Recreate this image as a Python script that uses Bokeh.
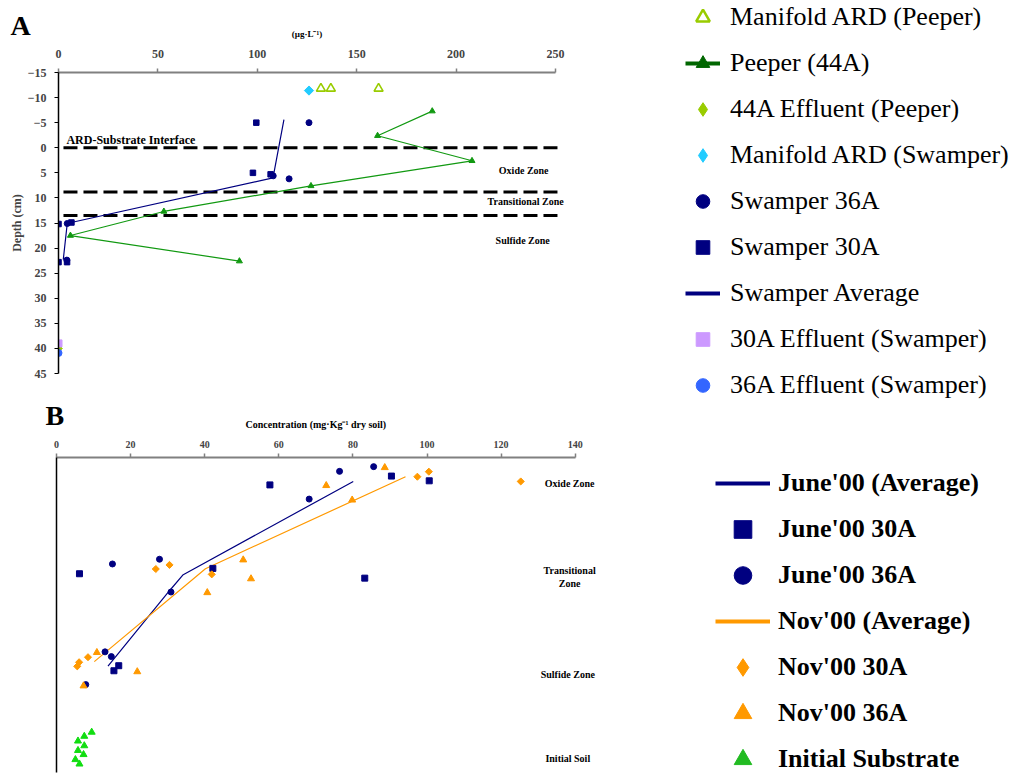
from bokeh.plotting import figure
from bokeh.layouts import column, row
from bokeh.models import Range1d, FixedTicker, Label, Legend, LegendItem
from bokeh.embed import file_html
from bokeh.resources import INLINE

SERIF = "Liberation Serif"

# ---------------- Panel A data (concentration µg/L vs depth cm) ----------------
a_x_ticks = [0, 50, 100, 150, 200, 250]
a_y_ticks = [-15, -10, -5, 0, 5, 10, 15, 20, 25, 30, 35, 40, 45]

manifold_peeper_conc = [132, 137, 161]
manifold_peeper_depth = [-11.8, -11.8, -11.8]

peeper_conc = [188, 160.5, 208, 127, 53, 6, 91]
peeper_depth = [-7.3, -2.4, 2.6, 7.6, 12.7, 17.5, 22.6]

eff44_conc = [0]
eff44_depth = [40.0]

manifold_swamper_conc = [126]
manifold_swamper_depth = [-11.4]

sw36_conc = [126, 108, 116, 4.4, 4.2]
sw36_depth = [-5.0, 5.6, 6.2, 15.1, 22.4]

sw30_conc = [99.5, 97.8, 106.7, 0, 6.5, 0, 4.3]
sw30_depth = [-5.0, 5.0, 5.3, 15.2, 14.9, 22.8, 22.8]

swavg_conc = [113.4, 107.9, 6.4, 4.4, 2.4]
swavg_depth = [-5.6, 6.0, 14.9, 15.1, 22.3]

eff30_conc = [0]
eff30_depth = [39.0]
eff36_conc = [0]
eff36_depth = [40.9]

boundary_depths = [0, 8.8, 13.5]
boundary_start = [2.5, 2.5, 2.5]
boundary_end = [252.5, 252.5, 252.5]

a_zone_texts = ["ARD-Substrate Interface", "Oxide Zone", "Transitional Zone", "Sulfide Zone"]

# ---------------- Panel B data (mg/kg dry soil vs relative depth) ----------------
b_x_ticks = [0, 20, 40, 60, 80, 100, 120, 140]

june30_conc = [57.6, 90.4, 100.6, 6.2, 42.2, 83.2, 15.5, 16.8]
june30_depth = [8.7, 5.9, 7.4, 36.9, 35.2, 38.3, 67.7, 66.1]

june36_conc = [85.6, 76.4, 68.2, 15.1, 27.8, 30.9, 13.1, 14.8, 7.9]
june36_depth = [2.9, 4.4, 13.2, 33.8, 32.3, 42.7, 61.7, 63.2, 72.1]

nov30_conc = [100.5, 97.4, 125.3, 30.5, 26.8, 41.9, 8.5, 6.1, 5.6]
nov30_depth = [4.5, 6.1, 7.6, 34.1, 35.4, 37.1, 63.4, 65.0, 66.3]

nov36_conc = [88.6, 72.8, 79.8, 50.4, 52.5, 40.7, 10.9, 21.8, 7.3]
nov36_depth = [3.2, 8.9, 13.5, 32.5, 38.5, 42.9, 61.9, 68.0, 72.5]

init_conc = [9.5, 7.5, 5.8, 7.5, 5.8, 7.3, 5.1, 6.2]
init_depth = [87.2, 88.5, 90.0, 91.5, 93.0, 94.3, 95.9, 97.3]

june_avg_conc = [80.1, 34.2, 30.5, 13.9]
june_avg_depth = [7.6, 37.2, 42.3, 66.2]

nov_avg_conc = [94.2, 40.2, 10.2]
nov_avg_depth = [6.1, 35.3, 64.8]

b_zone_texts = ["Oxide Zone", "Transitional", "Zone", "Sulfide Zone", "Initial Soil"]

NAVY = "#000080"
ORANGE = "#ff9900"
PEEP = "#119911"
YG = "#99cc00"
CYAN = "#22ccff"
LAV = "#cc99ff"
BLUE = "#3366ff"
LIME = "#11dd11"
DIAMOND_ANGLE = 0.7854


def bare_fig(w, h, xr, yr):
    f = figure(width=w, height=h, x_range=xr, y_range=yr, x_axis_location=None,
               y_axis_location=None, toolbar_location=None, output_backend="svg",
               min_border=0, frame_align=False)
    f.outline_line_color = None
    f.grid.visible = False
    return f


def style_top_axis(ax, ticks, bounds, size, standoff):
    ax.ticker = FixedTicker(ticks=ticks)
    ax.bounds = bounds
    ax.axis_line_color = "#808080"
    ax.axis_line_width = 2
    ax.major_tick_line_color = "#808080"
    ax.major_tick_line_width = 1.5
    ax.major_tick_in = 0
    ax.major_tick_out = 4
    ax.minor_tick_line_color = None
    ax.major_label_text_font = SERIF
    ax.major_label_text_font_style = "bold"
    ax.major_label_text_font_size = size
    ax.major_label_standoff = standoff


def text_label(f, x, y, t, size, align="center", baseline="middle"):
    f.add_layout(Label(x=x, y=y, text=t, text_align=align, text_baseline=baseline,
                       text_font=SERIF, text_font_style="bold", text_font_size=size,
                       text_color="black"))


# ================= Panel A =================
A_PX = 497.0 / 250.0           # pixels per µg/L
A_LEFT = 58
A_W = 600
pA = figure(width=A_W, height=360, x_range=Range1d(0, (A_W - A_LEFT) / A_PX),
            y_range=Range1d(45, -15), x_axis_location="above",
            toolbar_location=None, output_backend="svg", frame_align=False,
            min_border_left=A_LEFT, min_border_right=0, min_border_top=32, min_border_bottom=27)
pA.outline_line_color = None
pA.xgrid.visible = False
pA.ygrid.visible = False
style_top_axis(pA.xaxis[0], a_x_ticks, (0, 250), "12px", 11)

ya = pA.yaxis[0]
ya.ticker = FixedTicker(ticks=a_y_ticks)
ya.axis_line_color = "black"
ya.axis_line_width = 1.5
ya.major_tick_line_color = "black"
ya.major_tick_in = 0
ya.major_tick_out = 4
ya.minor_tick_line_color = None
ya.major_label_text_font = SERIF
ya.major_label_text_font_style = "bold"
ya.major_label_text_font_size = "12px"
ya.major_label_standoff = 8
ya.axis_label = "Depth (cm)"
ya.axis_label_text_font = SERIF
ya.axis_label_text_font_style = "bold"
ya.axis_label_text_font_size = "12px"
ya.axis_label_standoff = 1

pA.segment(x0=boundary_start, y0=boundary_depths, x1=boundary_end, y1=boundary_depths,
           line_color="black", line_width=3, line_dash="14 6")

pA.scatter(manifold_peeper_conc, manifold_peeper_depth, marker="triangle", size=9,
           fill_color=None, line_color=YG, line_width=1.6)
pA.line(peeper_conc, peeper_depth, line_color=PEEP, line_width=1.2)
pA.scatter(peeper_conc, peeper_depth, marker="triangle", size=6, fill_color=PEEP, line_color=PEEP)
pA.scatter(eff44_conc, eff44_depth, marker="square", angle=DIAMOND_ANGLE, size=5.5,
           fill_color=YG, line_color=YG)
pA.scatter(manifold_swamper_conc, manifold_swamper_depth, marker="square", angle=DIAMOND_ANGLE,
           size=6.5, fill_color=CYAN, line_color=CYAN)
pA.line(swavg_conc, swavg_depth, line_color=NAVY, line_width=1.2)
pA.scatter(sw36_conc, sw36_depth, marker="circle", size=6, fill_color=NAVY, line_color=NAVY)
pA.scatter(sw30_conc, sw30_depth, marker="square", size=5.5, fill_color=NAVY, line_color=NAVY)
pA.scatter(eff30_conc, eff30_depth, marker="square", size=7, fill_color=LAV, line_color=LAV)
pA.scatter(eff36_conc, eff36_depth, marker="circle", size=7, fill_color=BLUE, line_color=BLUE)

a_label_x = [4, 234, 235, 233.5]
a_label_y = [-1.5, 4.6, 10.8, 18.5]
a_label_align = ["left", "center", "center", "center"]
a_label_size = ["12px", "10px", "10px", "10px"]
for t, lx, ly, al, fs in zip(a_zone_texts, a_label_x, a_label_y, a_label_align, a_label_size):
    text_label(pA, lx, ly, t, fs, align=al)

# strip above panel A: panel letter and axis title (same x scale as panel A)
stripA = bare_fig(A_W, 40, Range1d(-A_LEFT / A_PX, (A_W - A_LEFT) / A_PX), Range1d(40, 0))
text_label(stripA, -24.1, 25, "A", "28px", align="left")
text_label(stripA, 125, 33, "(µg·L⁻¹)", "9px")

# legend panel A
legAfig = bare_fig(412, 400, Range1d(0, 1), Range1d(0, 1))
lg_mp = legAfig.scatter(manifold_peeper_conc, manifold_peeper_depth, marker="triangle",
                        fill_color=None, line_color=YG, line_width=2.5, visible=False)
lg_pl = legAfig.line(peeper_conc, peeper_depth, line_color="#006600", line_width=4, visible=False)
lg_pm = legAfig.scatter(peeper_conc, peeper_depth, marker="triangle", fill_color="#006600",
                        line_color="#006600", visible=False)
lg_e44 = legAfig.scatter(eff44_conc, eff44_depth, marker="diamond", fill_color=YG,
                         line_color=YG, visible=False)
lg_ms = legAfig.scatter(manifold_swamper_conc, manifold_swamper_depth, marker="diamond",
                        fill_color=CYAN, line_color=CYAN, visible=False)
lg_s36 = legAfig.scatter(sw36_conc, sw36_depth, marker="circle", fill_color=NAVY,
                         line_color=NAVY, visible=False)
lg_s30 = legAfig.scatter(sw30_conc, sw30_depth, marker="square", fill_color=NAVY,
                         line_color=NAVY, visible=False)
lg_avg = legAfig.line(swavg_conc, swavg_depth, line_color=NAVY, line_width=4, visible=False)
lg_e30 = legAfig.scatter(eff30_conc, eff30_depth, marker="square", fill_color=LAV,
                         line_color=LAV, visible=False)
lg_e36 = legAfig.scatter(eff36_conc, eff36_depth, marker="circle", fill_color=BLUE,
                         line_color=BLUE, visible=False)

legA = Legend(items=[
    LegendItem(label="Manifold ARD (Peeper)", renderers=[lg_mp]),
    LegendItem(label="Peeper (44A)", renderers=[lg_pl, lg_pm]),
    LegendItem(label="44A Effluent (Peeper)", renderers=[lg_e44]),
    LegendItem(label="Manifold ARD (Swamper)", renderers=[lg_ms]),
    LegendItem(label="Swamper 36A", renderers=[lg_s36]),
    LegendItem(label="Swamper 30A", renderers=[lg_s30]),
    LegendItem(label="Swamper Average", renderers=[lg_avg]),
    LegendItem(label="30A Effluent (Swamper)", renderers=[lg_e30]),
    LegendItem(label="36A Effluent (Swamper)", renderers=[lg_e36]),
], location=(85, -2), orientation="vertical", glyph_width=35, glyph_height=34,
    spacing=12, padding=0, margin=0, label_standoff=10, label_height=30,
    label_text_font=SERIF, label_text_font_size="26px", label_text_color="black",
    border_line_alpha=0, background_fill_alpha=0, inactive_fill_alpha=0)
legAfig.add_layout(legA)

# ================= Panel B =================
B_PX = 518.7 / 140.0
B_LEFT = 56
B_W = 600
pB = figure(width=B_W, height=346, x_range=Range1d(0, (B_W - B_LEFT) / B_PX),
            y_range=Range1d(100, 0), x_axis_location="above",
            toolbar_location=None, output_backend="svg", frame_align=False,
            min_border_left=B_LEFT, min_border_right=0, min_border_top=25, min_border_bottom=6)
pB.outline_line_color = None
pB.xgrid.visible = False
pB.ygrid.visible = False
style_top_axis(pB.xaxis[0], b_x_ticks, (0, 140), "10px", 6)

yb = pB.yaxis[0]
yb.ticker = FixedTicker(ticks=[])
yb.axis_line_color = "black"
yb.axis_line_width = 1.5
yb.major_tick_line_color = None
yb.minor_tick_line_color = None

pB.line(june_avg_conc, june_avg_depth, line_color=NAVY, line_width=1.2)
pB.line(nov_avg_conc, nov_avg_depth, line_color=ORANGE, line_width=1.2)
pB.scatter(june30_conc, june30_depth, marker="square", size=6, fill_color=NAVY, line_color=NAVY)
pB.scatter(june36_conc, june36_depth, marker="circle", size=6, fill_color=NAVY, line_color=NAVY)
pB.scatter(nov30_conc, nov30_depth, marker="square", angle=DIAMOND_ANGLE, size=5,
           fill_color=ORANGE, line_color=ORANGE)
pB.scatter(nov36_conc, nov36_depth, marker="triangle", size=7, fill_color=ORANGE, line_color=ORANGE)
pB.scatter(init_conc, init_depth, marker="triangle", size=7, fill_color=LIME, line_color=LIME)

b_label_x = [138.5, 138.5, 138.5, 138.0, 138.0]
b_label_y = [8.1, 35.9, 40.1, 69.0, 95.5]
for t, lx, ly in zip(b_zone_texts, b_label_x, b_label_y):
    text_label(pB, lx, ly, t, "10px")

stripB = bare_fig(B_W, 32, Range1d(-B_LEFT / B_PX, (B_W - B_LEFT) / B_PX), Range1d(32, 0))
text_label(stripB, -3.0, 15, "B", "28px", align="left")
text_label(stripB, 70, 24, "Concentration (mg·Kg⁻¹ dry soil)", "10px")

legBfig = bare_fig(412, 378, Range1d(0, 1), Range1d(0, 1))
lb_ja = legBfig.line(june_avg_conc, june_avg_depth, line_color=NAVY, line_width=4, visible=False)
lb_j30 = legBfig.scatter(june30_conc, june30_depth, marker="square", fill_color=NAVY,
                         line_color=NAVY, visible=False)
lb_j36 = legBfig.scatter(june36_conc, june36_depth, marker="circle", fill_color=NAVY,
                         line_color=NAVY, visible=False)
lb_na = legBfig.line(nov_avg_conc, nov_avg_depth, line_color=ORANGE, line_width=4, visible=False)
lb_n30 = legBfig.scatter(nov30_conc, nov30_depth, marker="diamond", fill_color=ORANGE,
                         line_color=ORANGE, visible=False)
lb_n36 = legBfig.scatter(nov36_conc, nov36_depth, marker="triangle", fill_color=ORANGE,
                         line_color=ORANGE, visible=False)
lb_ini = legBfig.scatter(init_conc, init_depth, marker="triangle", fill_color="#22bb22",
                         line_color="#22bb22", visible=False)

legB = Legend(items=[
    LegendItem(label="June'00 (Average)", renderers=[lb_ja]),
    LegendItem(label="June'00 30A", renderers=[lb_j30]),
    LegendItem(label="June'00 36A", renderers=[lb_j36]),
    LegendItem(label="Nov'00 (Average)", renderers=[lb_na]),
    LegendItem(label="Nov'00 30A", renderers=[lb_n30]),
    LegendItem(label="Nov'00 36A", renderers=[lb_n36]),
    LegendItem(label="Initial Substrate", renderers=[lb_ini]),
], location=(115, -3), orientation="vertical", glyph_width=55, glyph_height=44,
    spacing=2, padding=0, margin=0, label_standoff=8, label_height=30,
    label_text_font=SERIF, label_text_font_style="bold", label_text_font_size="26px",
    label_text_color="black", border_line_alpha=0, background_fill_alpha=0,
    inactive_fill_alpha=0)
legBfig.add_layout(legB)

layout = column(row(column(stripA, pA), legAfig), row(column(stripB, pB), legBfig))
open("out.html", "w").write(file_html(layout, INLINE))
